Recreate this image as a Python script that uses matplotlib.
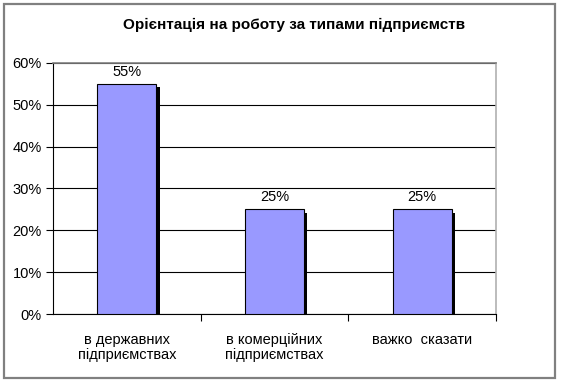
import matplotlib.pyplot as plt
import matplotlib.patheffects as pe
from matplotlib.patches import Rectangle
from matplotlib.ticker import MultipleLocator, FixedLocator

plt.rcParams['font.family'] = ['Liberation Sans', 'DejaVu Sans']

TITLE = "Орієнтація на роботу за типами підприємств"
categories = ["в державних\nпідприємствах", "в комерційних\nпідприємствах", "важко  сказати"]
values = [0.55, 0.25, 0.25]
labels = ["55%", "25%", "25%"]

fig = plt.figure(figsize=(5.61, 3.85), dpi=100)

# рамка діаграми
frame = Rectangle((4 / 561, 1 - 378 / 385), 551 / 561, 374 / 385,
                  transform=fig.transFigure, fill=False, edgecolor='#808080',
                  linewidth=1.6, zorder=0)
fig.patches.append(frame)

ax = fig.add_axes([53 / 561, 1 - 314 / 385, 443 / 561, 251 / 385])

x = range(len(categories))
bars = ax.bar(x, values, width=0.4, color='#9999FF', edgecolor='black',
              linewidth=0.8, zorder=3)
for b in bars:
    b.set_path_effects([pe.SimplePatchShadow(offset=(2.3, -2.3), shadow_rgbFace='black', alpha=1),
                        pe.Normal()])

for xi, v, lab in zip(x, values, labels):
    ax.text(xi, v + 0.012, lab, ha='center', va='bottom', fontsize=10.5)

ax.set_xlim(-0.5, 2.5)
ax.set_ylim(0, 0.6)
ax.yaxis.set_major_locator(MultipleLocator(0.1))
ax.set_yticklabels([f"{int(round(t * 100))}%" for t in ax.get_yticks()])
ax.grid(axis='y', color='black', linewidth=0.8, zorder=1)

ax.set_xticks(list(x))
ax.set_xticklabels(categories, fontsize=10.5, linespacing=1.05)
ax.xaxis.set_minor_locator(FixedLocator([0.5, 1.5, 2.5]))
ax.tick_params(axis='x', which='major', length=0, pad=14)
ax.tick_params(axis='x', which='minor', length=5, direction='out', width=0.8)
ax.tick_params(axis='y', length=5, direction='out', width=0.8, labelsize=10.5, pad=3)

for s in ['left', 'bottom']:
    ax.spines[s].set_color('black')
    ax.spines[s].set_linewidth(0.8)
ax.spines['top'].set_color('#808080')
ax.spines['top'].set_linewidth(1.2)
ax.spines['right'].set_color('#b0b0b0')
ax.spines['right'].set_linewidth(1.2)

fig.text(294 / 561, 1 - 25 / 385, TITLE, ha='center', va='center',
         fontsize=11, fontweight='bold')

fig.savefig('out.png', dpi=100)
